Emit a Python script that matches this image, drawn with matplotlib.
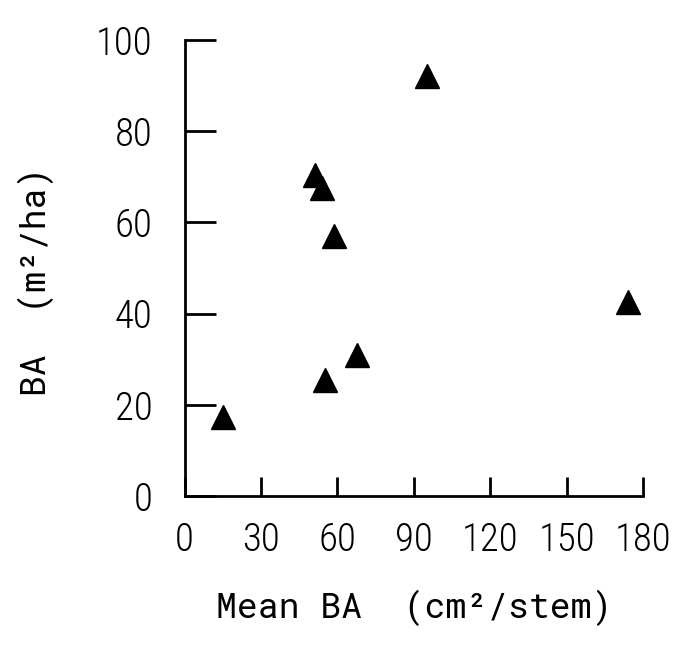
import matplotlib
matplotlib.use('Agg')
import matplotlib.pyplot as plt

# mean basal area per stem (cm2/stem) and stand basal area (m2/ha)
mean_ba = [15, 51, 54, 58.5, 55, 67.5, 95, 174]
ba = [17.3, 70.5, 67.5, 57, 25.5, 31, 92, 42.5]

x_ticks = [0, 30, 60, 90, 120, 150, 180]
y_ticks = [0, 20, 40, 60, 80, 100]

tick_font = dict(family=['Roboto Condensed', 'DejaVu Sans'], weight='light', size=28)
label_font = dict(family=['Roboto Mono', 'DejaVu Sans Mono'], weight='light', size=25)

fig = plt.figure(figsize=(6.84, 6.45), dpi=100)
ax = fig.add_axes([0.270, 0.231, 0.670, 0.707])

ax.plot(mean_ba, ba, linestyle='none', marker='^', markersize=17, color='black')

ax.set_xlim(0, 180)
ax.set_ylim(0, 100)
ax.set_xticks(x_ticks)
ax.set_yticks(y_ticks)
ax.set_xticklabels([str(v) for v in x_ticks], fontdict=tick_font)
ax.set_yticklabels([str(v) for v in y_ticks], fontdict=tick_font)
ax.tick_params(axis='x', direction='in', length=14, width=2, pad=18)
ax.tick_params(axis='y', direction='in', length=22, width=2, pad=23)

for s in ['top', 'right']:
    ax.spines[s].set_visible(False)
for s in ['left', 'bottom']:
    ax.spines[s].set_linewidth(2)

ax.set_xlabel('Mean BA  (cm²/stem)', fontdict=label_font)
ax.set_ylabel('BA  (m²/ha)', fontdict=label_font)
ax.xaxis.set_label_coords(0.5, -0.205)
ax.yaxis.set_label_coords(-0.285, 0.47)

plt.savefig('out.png')
